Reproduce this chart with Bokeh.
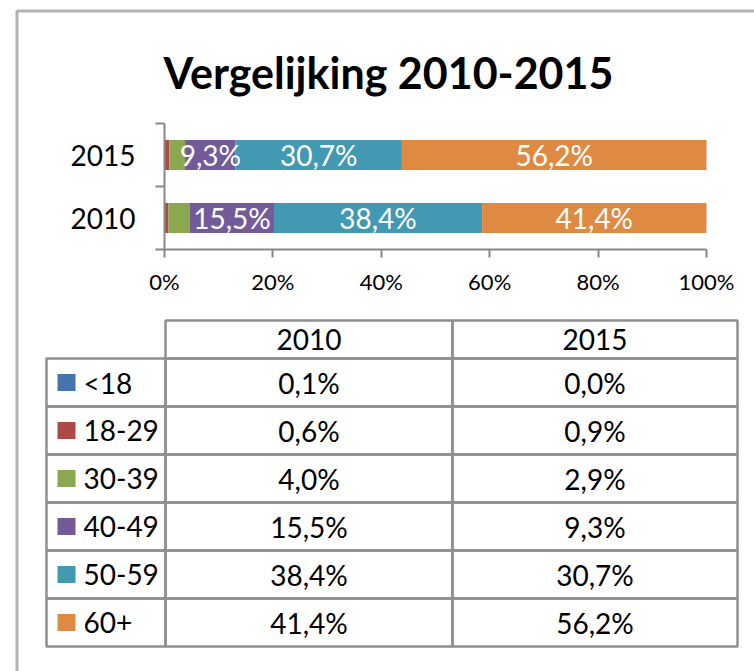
from bokeh.plotting import figure
from bokeh.models import (ColumnDataSource, Range1d, FixedTicker, PrintfTickFormatter,
                          CustomJSTickFormatter, LinearAxis)
from bokeh.embed import file_html
from bokeh.resources import INLINE
from bokeh.core.properties import value

# ---------------- data ----------------
title_text = "Vergelijking 2010-2015"
years = ["2010", "2015"]
age_groups = ["<18", "18-29", "30-39", "40-49", "50-59", "60+"]
pct_2010 = [0.1, 0.6, 4.0, 15.5, 38.4, 41.4]
pct_2015 = [0.0, 0.9, 2.9, 9.3, 30.7, 56.2]
labelled_groups = ["40-49", "50-59", "60+"]
x_ticks = [0, 20, 40, 60, 80, 100]

# ---------------- style / layout ----------------
colors = ["#4675AE", "#AD4A47", "#8AA84F", "#735A99", "#4399B2", "#DE8A42"]
FONT = "Lato"
AXIS_GREY = "#878787"
GRID_GREY = "#8f8f8f"
BORDER_GREY = "#b3b3b3"

W, H = 754, 671                      # canvas size (pixel-like default coordinates)
PCT0_PX, PCT100_PX = 164, 706        # where 0% and 100% sit on the canvas
CAT_TOP_PX, CAT_BOT_PX = 123, 249    # top / bottom of the category bands

values_by_year = {"2010": pct_2010, "2015": pct_2015}


def fmt(v):
    return ("%.1f" % v).replace(".", ",") + "%"


p = figure(width=W, height=H, x_range=Range1d(0, W), y_range=Range1d(H, 0),
           output_backend="svg", toolbar_location=None,
           x_axis_location=None, y_axis_location=None,
           min_border=0, min_border_left=0, min_border_right=0,
           min_border_top=0, min_border_bottom=0)
p.xgrid.visible = False
p.ygrid.visible = False
p.outline_line_color = None
p.background_fill_color = "white"
p.border_fill_color = "white"

# extra ranges for the bar chart (percent scale and category-band scale)
px_per_pct = (PCT100_PX - PCT0_PX) / 100.0
pct_start = -PCT0_PX / px_per_pct
pct_end = pct_start + W / px_per_pct
n = len(years)
px_per_band = (CAT_BOT_PX - CAT_TOP_PX) / float(n)
cat_start = -(H - CAT_BOT_PX) / px_per_band
cat_end = n + CAT_TOP_PX / px_per_band
p.extra_x_ranges = {"pct": Range1d(pct_start, pct_end)}
p.extra_y_ranges = {"cat": Range1d(cat_start, cat_end)}

# ---------------- outer chart border ----------------
p.line(x=[16.5, 16.5, W], y=[H, 10.5, 10.5], line_color=BORDER_GREY, line_width=3)

# ---------------- title ----------------
p.text(x=[163], y=[72], text=[title_text], text_align="left", text_baseline="alphabetic",
       text_color="black", text_font=value(FONT), text_font_style="bold", text_font_size="43px")

# ---------------- bars ----------------
ypos = [i + 0.5 for i in range(n)]
data = {"y": ypos}
for gi, g in enumerate(age_groups):
    data[g] = [values_by_year[yr][gi] for yr in years]
src = ColumnDataSource(data)
p.hbar_stack(age_groups, y="y", height=0.48, color=colors, source=src, line_color=None,
             x_range_name="pct", y_range_name="cat")

lx, ly, lt = [], [], []
for yi, yr in enumerate(years):
    cum = 0.0
    for g, v in zip(age_groups, values_by_year[yr]):
        if g in labelled_groups:
            lx.append(cum + v / 2.0)
            ly.append(ypos[yi])
            lt.append(fmt(v))
        cum += v
p.text(x=lx, y=ly, text=lt, text_align="center", text_baseline="middle",
       text_color="white", text_font=value(FONT), text_font_size="28px",
       x_range_name="pct", y_range_name="cat")

# ---------------- axes ----------------
xa = LinearAxis(x_range_name="pct", y_range_name="cat", fixed_location=0, bounds=(0, 100))
ya = LinearAxis(x_range_name="pct", y_range_name="cat", fixed_location=0, bounds=(0, n))
for ax in (xa, ya):
    ax.axis_line_color = AXIS_GREY
    ax.axis_line_width = 2
    ax.major_tick_line_color = AXIS_GREY
    ax.major_tick_line_width = 2
    ax.minor_tick_line_color = AXIS_GREY
    ax.minor_tick_line_width = 2
    ax.major_label_text_font = FONT
    ax.major_label_text_color = "black"

xa.ticker = FixedTicker(ticks=x_ticks)
xa.formatter = PrintfTickFormatter(format="%d%%")
xa.major_tick_out = 8
xa.major_tick_in = 0
xa.minor_tick_line_color = None
xa.major_label_text_font_size = "22px"
xa.major_label_standoff = 10

ya.ticker = FixedTicker(ticks=ypos, minor_ticks=list(range(n + 1)))
ya.formatter = CustomJSTickFormatter(args=dict(labels=years),
                                     code="const i = Math.floor(tick); return (i >= 0 && i < labels.length) ? labels[i] : '';")
ya.major_tick_line_color = None
ya.major_tick_in = 0
ya.major_tick_out = 0
ya.minor_tick_in = 0
ya.minor_tick_out = 9
ya.major_label_text_font_size = "28px"
ya.major_label_standoff = 20

p.add_layout(xa, "below")
p.add_layout(ya, "left")

# ---------------- data table ----------------
col_edges = [46, 165, 452, 737]
header_top, header_bottom, row_h = 320, 358, 48
TABLE_FS = "28px"

hl, hr, hx = [], [], []
for j, yr in enumerate(years):
    hl.append(col_edges[j + 1])
    hr.append(col_edges[j + 2])
    hx.append((col_edges[j + 1] + col_edges[j + 2]) / 2.0)
p.quad(left=hl, right=hr, top=[header_top] * n, bottom=[header_bottom] * n,
       fill_color=None, line_color=GRID_GREY, line_width=2.5)
p.text(x=hx, y=[(header_top + header_bottom) / 2.0] * n, text=years,
       text_align="center", text_baseline="middle", text_color="black",
       text_font=value(FONT), text_font_size=TABLE_FS)

cl, cr, ct, cb = [], [], [], []
vx, vy, vt = [], [], []
mids = []
for i, g in enumerate(age_groups):
    top = header_bottom + i * row_h
    bot = top + row_h
    mid = (top + bot) / 2.0
    for c in range(3):
        cl.append(col_edges[c])
        cr.append(col_edges[c + 1])
        ct.append(top)
        cb.append(bot)
    for j, yr in enumerate(years):
        vx.append((col_edges[j + 1] + col_edges[j + 2]) / 2.0)
        vy.append(mid)
        vt.append(fmt(values_by_year[yr][i]))
    mids.append(mid)

p.quad(left=cl, right=cr, top=ct, bottom=cb, fill_color=None, line_color=GRID_GREY, line_width=2.5)
p.text(x=vx, y=vy, text=vt, text_align="center", text_baseline="middle", text_color="black",
       text_font=value(FONT), text_font_size=TABLE_FS)
p.rect(x=[col_edges[0] + 20] * len(age_groups), y=mids, width=18, height=17,
       fill_color=colors, line_color=None)
p.text(x=[col_edges[0] + 37] * len(age_groups), y=mids, text=age_groups, text_align="left",
       text_baseline="middle", text_color="black", text_font=value(FONT), text_font_size=TABLE_FS)

with open("out.html", "w") as f:
    f.write(file_html(p, INLINE))
